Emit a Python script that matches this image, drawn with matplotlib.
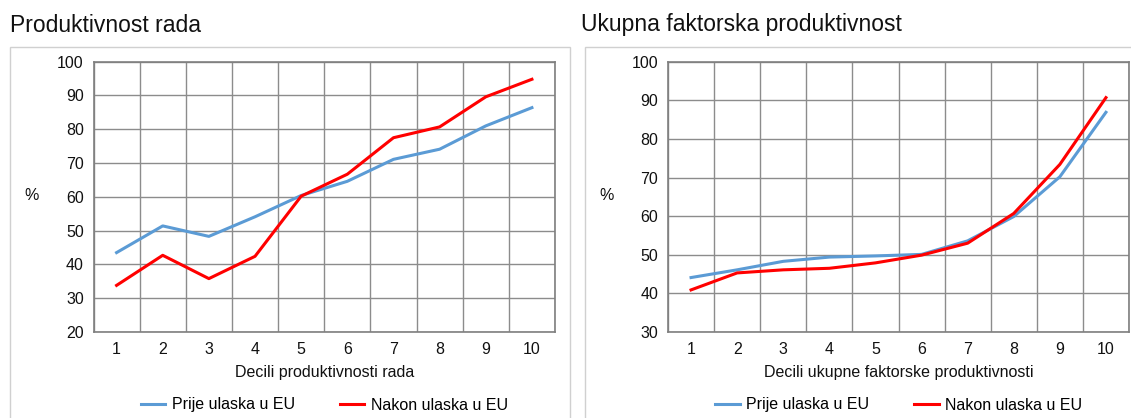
import matplotlib

matplotlib.use("Agg")
import matplotlib.pyplot as plt
from matplotlib.patches import Rectangle

plt.rcParams["font.family"] = ["Liberation Sans", "DejaVu Sans"]

DECILES = list(range(1, 11))

# Produktivnost rada
LABOUR_BEFORE = [43.5, 51.4, 48.3, 54.1, 60.4, 64.6, 71.1, 74.1, 81.0, 86.4]
LABOUR_AFTER = [33.8, 42.7, 35.8, 42.4, 60.2, 66.7, 77.5, 80.7, 89.6, 94.8]

# Ukupna faktorska produktivnost
TFP_BEFORE = [44.1, 46.1, 48.3, 49.4, 49.7, 50.1, 53.6, 59.9, 70.2, 86.9]
TFP_AFTER = [40.9, 45.3, 46.1, 46.5, 47.9, 49.9, 53.0, 60.7, 73.4, 90.7]

BLUE = "#5b9bd5"
RED = "#ff0000"
W, H = 1131, 418

fig = plt.figure(figsize=(W / 100, H / 100), dpi=100)

panels = [
    dict(title="Produktivnost rada", xlabel="Decili produktivnosti rada",
         before=LABOUR_BEFORE, after=LABOUR_AFTER, ylim=(20, 100),
         box_x=10, box_w=560, title_x=10, ax_left=93.5, ax_w=461.5),
    dict(title="Ukupna faktorska produktivnost", xlabel="Decili ukupne faktorske produktivnosti",
         before=TFP_BEFORE, after=TFP_AFTER, ylim=(30, 100),
         box_x=585, box_w=600, title_x=581, ax_left=668, ax_w=461),
]

ax_top, ax_bottom = 61.7, 332.0

for p in panels:
    fig.add_artist(Rectangle((p["box_x"] / W, -0.1), p["box_w"] / W, (H - 47) / H + 0.1,
                             transform=fig.transFigure, fill=False, edgecolor="#d0d0d0", lw=1.0))
    fig.text(p["title_x"] / W, 1 - 25 / H, p["title"], fontsize=16.5, va="center", ha="left", color="#111111")

    ax = fig.add_axes([p["ax_left"] / W, (H - ax_bottom) / H, p["ax_w"] / W, (ax_bottom - ax_top) / H])
    ax.plot(DECILES, p["before"], color=BLUE, lw=2.2, label="Prije ulaska u EU", solid_joinstyle="round")
    ax.plot(DECILES, p["after"], color=RED, lw=2.2, label="Nakon ulaska u EU", solid_joinstyle="round")
    ax.set_xlim(0.5, 10.5)
    ax.set_ylim(*p["ylim"])
    ax.set_yticks(range(p["ylim"][0], 101, 10))
    ax.set_xticks(DECILES)
    ax.set_xticks([i + 0.5 for i in range(0, 11)], minor=True)
    ax.grid(True, which="minor", axis="x", color="#8c8c8c", lw=1.0)
    ax.grid(True, which="major", axis="y", color="#8c8c8c", lw=1.0)
    ax.set_axisbelow(True)
    ax.tick_params(which="both", length=0, labelsize=11.5, colors="#111111")
    ax.tick_params(axis="x", pad=7)
    ax.tick_params(axis="y", pad=7)
    for s in ax.spines.values():
        s.set_color("#7f7f7f")
        s.set_linewidth(1.2)
    ax.set_xlabel(p["xlabel"], fontsize=11.5, labelpad=6, color="#111111")
    ax.set_ylabel("%", fontsize=11.5, rotation=0, labelpad=0, color="#111111", va="center")
    ax.yaxis.set_label_coords((p["box_x"] + 22 - p["ax_left"]) / p["ax_w"], (ax_bottom - 195) / (ax_bottom - ax_top))
    ax.legend(loc="center", bbox_to_anchor=(0.5, (ax_bottom - 405) / (ax_bottom - ax_top)),
              ncol=2, frameon=False, fontsize=11.5, handlelength=1.55, columnspacing=2.8,
              handletextpad=0.4)

fig.savefig("out.png", dpi=100)
